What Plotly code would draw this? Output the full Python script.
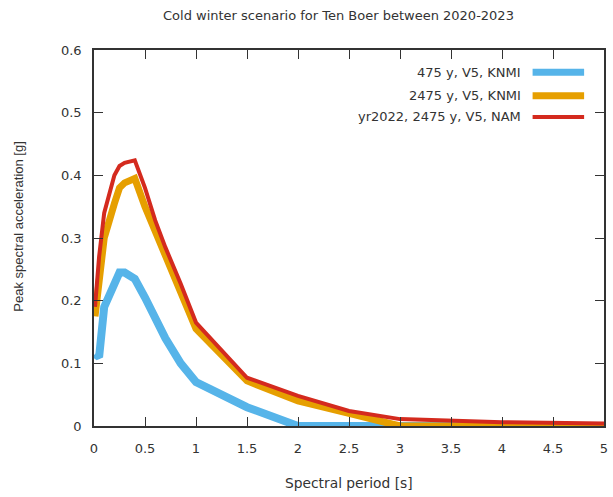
import plotly.graph_objects as go

periods = [0.01, 0.05, 0.1, 0.2, 0.25, 0.3, 0.4, 0.5, 0.6, 0.7, 0.85, 1.0, 1.5, 2.0, 2.5, 3.0, 4.0, 5.0]
knmi_475 = [0.115, 0.11, 0.19, 0.225, 0.245, 0.245, 0.235, 0.205, 0.17, 0.14, 0.10, 0.07, 0.03, 0.0, 0.0, 0.0, 0.0, 0.0]
knmi_2475 = [0.175, 0.24, 0.30, 0.355, 0.38, 0.388, 0.395, 0.35, 0.31, 0.275, 0.21, 0.155, 0.072, 0.04, 0.02, 0.0, 0.0, 0.0]
nam_2475 = [0.19, 0.27, 0.34, 0.40, 0.415, 0.42, 0.424, 0.38, 0.328, 0.285, 0.227, 0.165, 0.077, 0.048, 0.024, 0.011, 0.006, 0.004]

names = ["475 y, V5, KNMI", "2475 y, V5, KNMI", "yr2022, 2475 y, V5, NAM"]
series = [knmi_475, knmi_2475, nam_2475]
colors = ["#56B4E9", "#E69F00", "#D42A1E"]
widths = [8, 7, 4]

x_ticks = [0, 0.5, 1, 1.5, 2, 2.5, 3, 3.5, 4, 4.5, 5]
y_ticks = [0, 0.1, 0.2, 0.3, 0.4, 0.5, 0.6]

title_text = "Cold winter scenario for Ten Boer between 2020-2023"
x_title = "Spectral period [s]"
y_title = "Peak spectral acceleration [g]"

FONT = "DejaVu Sans, sans-serif"
FONT_V = "Liberation Sans, Arial, sans-serif"
TXT = "#333333"

fig = go.Figure()
for name, vals, col, w in zip(names, series, colors, widths):
    fig.add_trace(go.Scatter(x=periods, y=vals, mode="lines", name=name,
                             line=dict(color=col, width=w), showlegend=False))

axis_common = dict(showline=True, linecolor="#333333", linewidth=1.5, mirror="ticks",
                   ticks="inside", ticklen=9, tickwidth=1, tickcolor="#333333",
                   showgrid=False, zeroline=False,
                   tickfont=dict(family=FONT, size=13, color=TXT))

fig.update_layout(
    width=613, height=497,
    margin=dict(l=94, r=5, t=50, b=71),
    paper_bgcolor="white", plot_bgcolor="white",
    font=dict(family=FONT, size=13, color=TXT),
    xaxis=dict(range=[0, 5], tickvals=x_ticks, ticktext=[f"{t:g}" for t in x_ticks],
               ticklabelstandoff=10, **axis_common),
    yaxis=dict(range=[0, 0.6], tickvals=y_ticks, ticktext=[f"{t:g}" for t in y_ticks],
               ticklabelstandoff=8, **axis_common),
    showlegend=False,
)

# title and axis titles
fig.add_annotation(text=title_text, xref="paper", yref="paper", x=0.48, y=1.0,
                   yshift=35, showarrow=False, xanchor="center", yanchor="middle",
                   font=dict(family=FONT, size=13, color=TXT))
fig.add_annotation(text=x_title, xref="paper", yref="paper", x=0.5, y=0,
                   yshift=-57, showarrow=False, xanchor="center", yanchor="middle",
                   font=dict(family=FONT, size=13.8, color=TXT))
fig.add_annotation(text=y_title, xref="paper", yref="paper", x=0, y=0.53,
                   xshift=-75, textangle=-90, showarrow=False, xanchor="center", yanchor="middle",
                   font=dict(family=FONT_V, size=13, color=TXT))

# gnuplot-style key: text right-aligned, sample line to the right
key_y = [0.941, 0.878, 0.822]
for name, col, w, ky in zip(names, colors, widths, key_y):
    fig.add_annotation(text=name, xref="paper", yref="paper", x=0.842, y=ky,
                       showarrow=False, xanchor="right", yanchor="middle",
                       font=dict(family=FONT, size=13, color=TXT))
    fig.add_shape(type="line", xref="paper", yref="paper", x0=0.860, x1=0.961, y0=ky, y1=ky,
                  line=dict(color=col, width=min(w, 7)))

fig.write_html("out.html", config={"displayModeBar": False},
               post_script="document.body.style.margin='0';document.body.style.overflow='hidden';")
